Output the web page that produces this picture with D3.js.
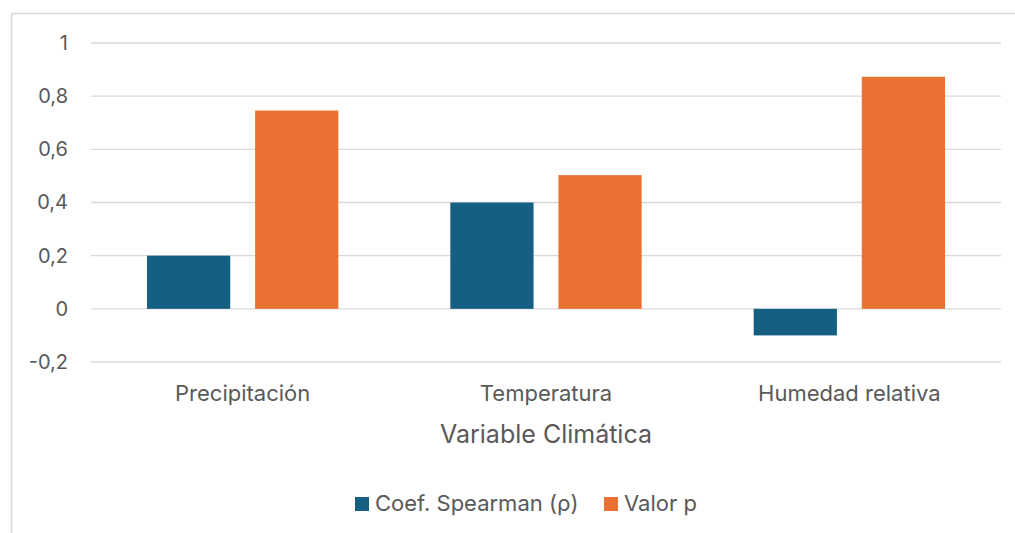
<!DOCTYPE html>
<html>
<head>
<meta charset="utf-8">
<script src="https://cdn.jsdelivr.net/npm/d3@7"></script>
<style>
  body { margin: 0; background: #fff; }
  text { font-family: Inter, "Open Sans", sans-serif; fill: #595959; }
</style>
</head>
<body>
<div id="canvas"></div>
<script>
const categories = ["Precipitación", "Temperatura", "Humedad relativa"];
const seriesNames = ["Coef. Spearman (ρ)", "Valor p"];
const spearman = [0.2, 0.4, -0.1];
const pValue = [0.746, 0.503, 0.873];
const yTicks = [-0.2, 0, 0.2, 0.4, 0.6, 0.8, 1];
const colors = ["#156082", "#E97132"];

const width = 1015, height = 533;
const margin = { top: 43, left: 91, right: 14, bottom: 171 };
const iwidth = width - margin.left - margin.right;
const iheight = height - margin.top - margin.bottom;

const svg = d3.select("#canvas").append("svg")
  .attr("width", width)
  .attr("height", height);

// chart frame
svg.append("rect")
  .attr("x", 11.5).attr("y", 13.5)
  .attr("width", width + 20).attr("height", height + 20)
  .attr("fill", "none").attr("stroke", "#d9d9d9").attr("stroke-width", 1.5);

const graph = svg.append("g").attr("transform", `translate(${margin.left},${margin.top})`);

const y = d3.scaleLinear().domain([-0.2, 1]).range([iheight, 0]);
const x0 = d3.scaleBand().domain(categories).range([0, iwidth]).paddingInner(0).paddingOuter(0);
const x1 = d3.scaleBand().domain(seriesNames).range([56, x0.bandwidth() - 56]).paddingInner(0.23);

// gridlines
graph.append("g").selectAll("line").data(yTicks).enter().append("line")
  .attr("x1", 0).attr("x2", iwidth)
  .attr("y1", d => y(d)).attr("y2", d => y(d))
  .attr("stroke", "#d9d9d9").attr("stroke-width", 1.3);

// y axis labels
const yAxis = graph.append("g")
  .call(d3.axisLeft(y).tickValues(yTicks).tickSize(0).tickPadding(23)
    .tickFormat(d => String(d).replace(".", ",")));
yAxis.select(".domain").remove();
yAxis.selectAll("text").style("font-size", "20px").style("fill", "#595959");

// bars
const rows = categories.map((c, i) => ({ cat: c, values: [spearman[i], pValue[i]] }));
const groups = graph.selectAll(".grp").data(rows).enter().append("g")
  .attr("transform", d => `translate(${x0(d.cat)},0)`);
groups.selectAll("rect").data(d => d.values.map((v, j) => ({ key: seriesNames[j], v, j })))
  .enter().append("rect")
  .attr("x", d => x1(d.key))
  .attr("width", x1.bandwidth())
  .attr("y", d => y(Math.max(0, d.v)))
  .attr("height", d => Math.abs(y(d.v) - y(0)))
  .attr("fill", d => colors[d.j]);

// x axis labels
const xAxis = graph.append("g")
  .attr("transform", `translate(0,${iheight})`)
  .call(d3.axisBottom(x0).tickSize(0).tickPadding(23));
xAxis.select(".domain").remove();
xAxis.selectAll("text").style("font-size", "22px").style("fill", "#595959");

// axis title
svg.append("text")
  .attr("x", margin.left + iwidth / 2).attr("y", 443)
  .attr("text-anchor", "middle")
  .style("font-size", "25px")
  .text("Variable Climática");

// legend
const legendX = [355, 604];
const legend = svg.append("g").selectAll("g").data(seriesNames).enter().append("g")
  .attr("transform", (d, i) => `translate(${legendX[i]},497)`);
legend.append("rect").attr("width", 14).attr("height", 14).attr("fill", (d, i) => colors[i]);
legend.append("text").attr("x", 20).attr("y", 14).style("font-size", "22px").text(d => d);
</script>
</body>
</html>
